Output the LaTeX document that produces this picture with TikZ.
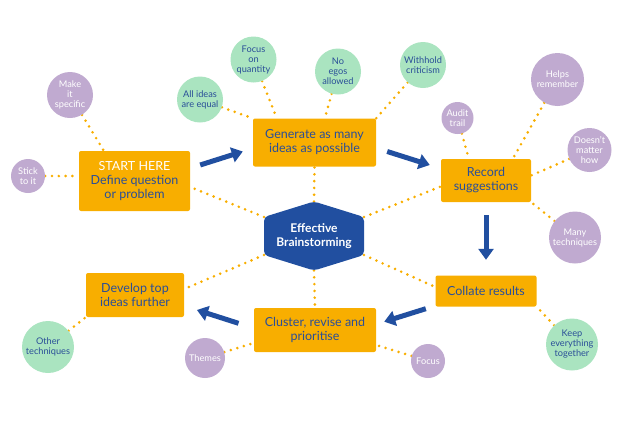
\documentclass[tikz,border=0pt]{standalone}
\usepackage{fontspec}
\setmainfont{Lato}
\usetikzlibrary{arrows.meta,calc,backgrounds}
\definecolor{orng}{RGB}{248,174,0}
\definecolor{hexblue}{RGB}{33,79,160}
\definecolor{txtblue}{RGB}{42,78,152}
\definecolor{grn}{RGB}{170,228,192}
\definecolor{prp}{RGB}{192,170,208}
\begin{document}
\begin{tikzpicture}[x=1pt,y=-1pt,
  box/.style={fill=orng, rounded corners=2pt, align=center, text=txtblue, font=\fontsize{12.5}{14}\selectfont, inner sep=0pt},
  gc/.style={circle, fill=grn, inner sep=0pt},
  pc/.style={circle, fill=prp, inner sep=0pt},
  gtext/.style={align=center, text=txtblue, font=\fontsize{9.2}{10}\selectfont},
  ptext/.style={align=center, text=white, font=\fontsize{9.2}{10}\selectfont},
  dots/.style={draw=orng, line width=2.9pt, line cap=round, dash pattern=on 0pt off 6.8pt},
  barrow/.style={draw=hexblue, line width=5pt, -{Triangle[length=11pt,width=15pt]}},
]
\useasboundingbox (0,0) rectangle (628,421);

% boxes
\node[box, minimum width=111pt, minimum height=60pt] (start) at (134.5,181) {{\color{white}START HERE}\\Define question\\or problem};
\node[box, minimum width=123pt, minimum height=48pt] (gen) at (314.5,142.5) {Generate as many\\ideas as possible};
\node[box, minimum width=90pt, minimum height=43pt] (rec) at (486,180.5) {Record\\suggestions};
\node[box, minimum width=101pt, minimum height=31pt] (col) at (486,291) {Collate results};
\node[box, minimum width=122pt, minimum height=44pt] (clu) at (315,330) {Cluster, revise and\\prioritise};
\node[box, minimum width=98pt, minimum height=44pt] (dev) at (135,295) {Develop top\\ideas further};

% hexagon
\coordinate (hN) at (314,201.5);
\coordinate (hNE) at (364,217);
\coordinate (hSE) at (364,255);
\coordinate (hS) at (314,270.5);
\coordinate (hSW) at (264,255);
\coordinate (hNW) at (264,217);
\fill[hexblue, rounded corners=4pt] (hN) -- (hNE) -- (hSE) -- (hS) -- (hSW) -- (hNW) -- cycle;
\node[text=white, font=\fontsize{12}{14}\selectfont\bfseries, align=center] (hex) at (314,236) {Effective\\Brainstorming};

% circles
\node[pc, minimum size=46pt, label={[ptext, name=tspec]center:Make\\it\\specific}] (spec) at (70,95) {};
\node[pc, minimum size=34pt, label={[ptext, name=tstick]center:Stick\\to it}] (stick) at (28,176) {};
\node[gc, minimum size=46pt, label={[gtext, name=tall]center:All ideas\\are equal}] (all) at (200,99.5) {};
\node[gc, minimum size=46pt, label={[gtext, name=tfq]center:Focus\\on\\quantity}] (fq) at (253.5,59.5) {};
\node[gc, minimum size=46pt, label={[gtext, name=tego]center:No\\egos\\allowed}] (ego) at (338,71.5) {};
\node[gc, minimum size=46pt, label={[gtext, name=twh]center:Withhold\\criticism}] (wh) at (423,65) {};
\node[pc, minimum size=32pt, label={[ptext, name=taud]center:Audit\\trail}] (aud) at (457.5,118) {};
\node[pc, minimum size=53pt, label={[ptext, name=thr]center:Helps\\remember}] (hr) at (557.5,79.5) {};
\node[pc, minimum size=44pt, label={[ptext, name=tdmh]center:Doesn't\\matter\\how}] (dmh) at (589.5,150) {};
\node[pc, minimum size=52pt, label={[ptext, name=tmt]center:Many\\techniques}] (mt) at (575,237.5) {};
\node[gc, minimum size=52pt, label={[gtext, name=tket]center:Keep\\everything\\together}] (ket) at (572,344.5) {};
\node[pc, minimum size=34pt, label={[ptext, name=tfoc]center:Focus}] (foc) at (428,361) {};
\node[pc, minimum size=40pt, label={[ptext, name=tthm]center:Themes}] (thm) at (205,358) {};
\node[gc, minimum size=52pt, label={[gtext, name=toth]center:Other\\techniques}] (oth) at (48,347) {};

% dotted connectors
\begin{pgfonlayer}{background}
\draw[dots] (hN) -- (gen.south);
\draw[dots] (hS) -- (clu.north);
\draw[dots] (hNW) -- ($(start.east)+(0,6)$);
\draw[dots] (hNE) -- ($(rec.west)+(0,6)$);
\draw[dots] (hSE) -- ($(col.west)+(0,-4)$);
\draw[dots] (hSW) -- ($(dev.east)+(0,-6)$);
\draw[dots] (spec) -- ($(start.north west)+(25,0)$);
\draw[dots] (stick.east) -- (stick.east -| start.west);
\draw[dots] (all) -- (gen.north west);
\draw[dots] (fq) -- ($(gen.north west)+(24,0)$);
\draw[dots] (ego) -- ($(gen.north west)+(72,0)$);
\draw[dots] (wh) -- (gen.north east);
\draw[dots] (aud) -- ($(rec.north west)+(28,0)$);
\draw[dots] (hr) -- ($(rec.north west)+(72,0)$);
\draw[dots] (dmh) -- ($(rec.east)+(0,-5)$);
\draw[dots] (mt) -- (rec.south east);
\draw[dots] (ket) -- (col.south east);
\draw[dots] (foc) -- ($(clu.east)+(0,15)$);
\draw[dots] (thm) -- ($(clu.west)+(0,13)$);
\draw[dots] (oth) -- (dev.south west);
\end{pgfonlayer}

% flow arrows
\draw[barrow] ($(start.east)+(10,-16)$) -- ($(gen.west)+(-10,9)$);
\draw[barrow] ($(gen.east)+(11,9)$) -- ($(rec.west)+(-11,-15.5)$);
\draw[barrow] ($(rec.south)+(0,13)$) -- ($(col.north)+(0,-15.5)$);
\draw[barrow] ($(col.south west)+(-9.5,2)$) -- ($(clu.east)+(8,-8.3)$);
\draw[barrow] ($(clu.west)+(-15.3,-6.7)$) -- ($(dev.east)+(12.7,15)$);
\end{tikzpicture}
\end{document}
